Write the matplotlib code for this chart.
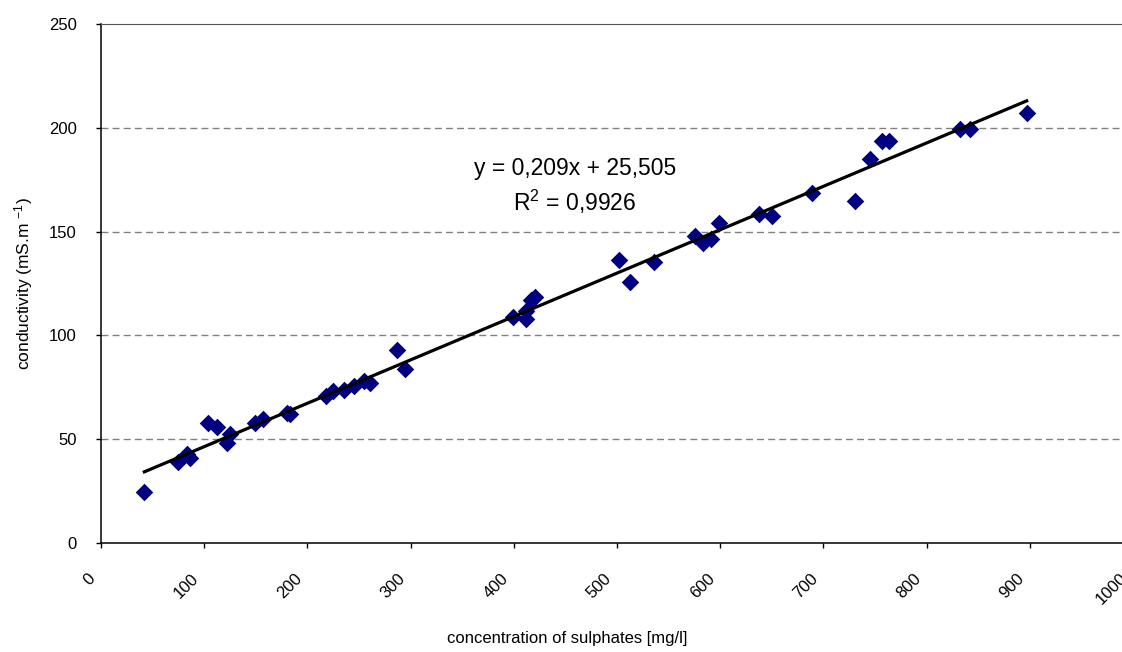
import numpy as np
import matplotlib
matplotlib.use('Agg')
import matplotlib.pyplot as plt
import matplotlib.transforms as mtransforms

plt.rcParams['font.family'] = ['Liberation Sans', 'DejaVu Sans']
plt.rcParams['mathtext.default'] = 'regular'

# data
sulphates = [42, 75, 83, 86, 104, 112, 122, 125, 149, 157, 180, 183, 218, 225, 235,
             245, 255, 261, 287, 295, 399, 412, 412, 417, 421, 502, 513, 536, 576, 583,
             591, 599, 638, 650, 689, 731, 745, 757, 764, 832, 842, 897]
conductivity = [24.5, 39, 43, 41, 58, 55.7, 48.3, 52.5, 58, 59.7, 62.8, 62, 70.8, 73, 73.7,
                75.6, 78, 77, 93, 84, 108.7, 111.9, 107.8, 117, 118.5, 136.3, 125.9, 135.2, 148, 144.5,
                146.3, 154.3, 158.3, 157.7, 168.5, 164.7, 185.1, 193.8, 193.8, 199.6, 199.3, 207]
slope, intercept = 0.209, 25.505
x_ticks = list(range(0, 1001, 100))
y_ticks = list(range(0, 251, 50))

fig = plt.figure(figsize=(11.22, 6.52), dpi=100)
ax = fig.add_axes([101 / 1122, 109 / 652, 1032 / 1122, 519 / 652])

ax.scatter(sulphates, conductivity, marker='D', s=80, color='#000080', zorder=3, linewidths=0)
xf = np.array([min(sulphates), max(sulphates)])
ax.plot(xf, slope * xf + intercept, color='black', lw=2.3, zorder=4)

ax.set_xlim(0, 1000)
ax.set_ylim(0, 250)
ax.set_yticks(y_ticks)
for y in y_ticks[1:-1]:
    ax.axhline(y, color='#808080', lw=1, dashes=(5, 3), zorder=1)

ax.spines['right'].set_visible(False)
ax.spines['top'].set_color('#555555')
ax.spines['left'].set_linewidth(1.1)
ax.spines['bottom'].set_linewidth(1.1)

ax.tick_params(axis='y', direction='out', length=3.6, width=1, pad=14, labelsize=12)
ax.tick_params(axis='x', direction='out', length=3.6, width=1, pad=20, labelsize=12)
ax.set_xticks(x_ticks)
ax.set_xticklabels([str(t) for t in x_ticks], rotation=45, ha='right',
                   va='center', rotation_mode='anchor')
shift = mtransforms.ScaledTranslation(-8 / 100, 0, fig.dpi_scale_trans)
for lab in ax.get_xticklabels():
    lab.set_transform(lab.get_transform() + shift)

fig.text(24 / 1122, 1 - 284 / 652, 'conductivity (mS.m $^{-1}$)', rotation=90,
         ha='center', va='center', fontsize=12.5)
fig.text(567 / 1122, 1 - 638 / 652, 'concentration of sulphates [mg/l]',
         ha='center', va='center', fontsize=12)

# equation box sits at pixel x~575, converted to data units
eq_x = (575 - 101) / 1032 * 1000
ax.text(eq_x, 180.6, 'y = 0,209x + 25,505', ha='center', va='center', fontsize=16.5)
ax.text(eq_x, 164.3, 'R$^{2}$ = 0,9926', ha='center', va='center', fontsize=16.5)

fig.savefig('out.png', dpi=100)
